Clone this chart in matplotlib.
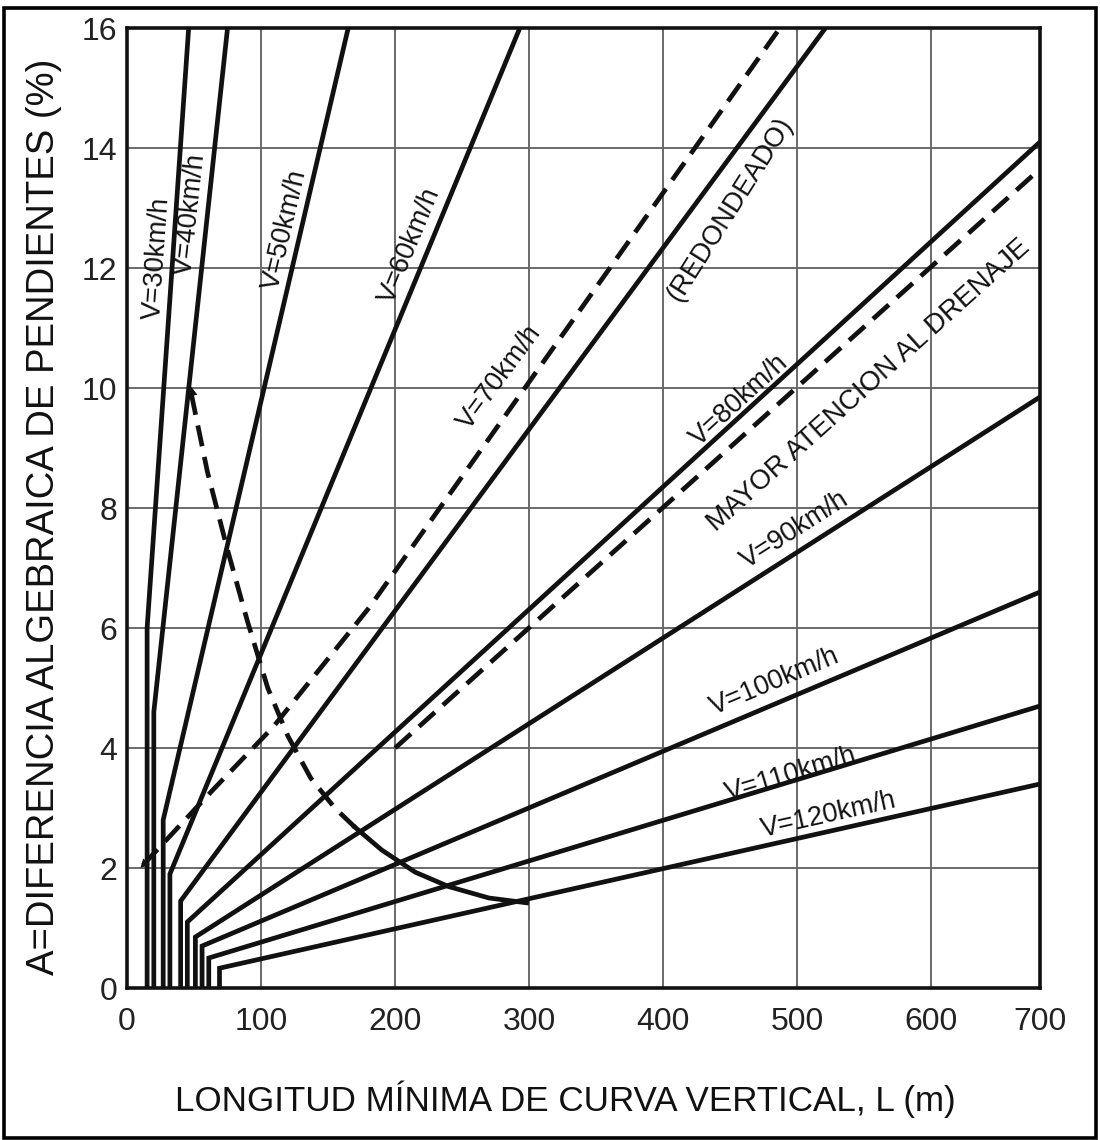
import matplotlib
matplotlib.use('Agg')
import matplotlib.pyplot as plt
import numpy as np
from matplotlib.patches import Rectangle

# ---------------- data ----------------
speeds = [30, 40, 50, 60, 70, 80, 90, 100, 110, 120]
L_min = [15, 20, 27, 32, 40, 45, 51, 56, 61, 69]
A_break = [6.0, 4.6, 2.8, 1.9, 1.45, 1.1, 0.85, 0.7, 0.5, 0.33]
L_end = [46, 75, 165, 293, 521, 681, 681, 681, 681, 681]
A_end = [16, 16, 16, 16, 16, 14.1, 9.85, 6.6, 4.7, 3.4]

L_redondeado = [12, 64, 109, 181, 487]
A_redondeado = [2.05, 3.3, 4.35, 6.35, 16]

L_drenaje = [200, 681]
A_drenaje = [4.0, 13.65]

L_limite_dash = [48, 60, 75, 90, 105, 120, 137, 155, 170]
A_limite_dash = [9.9, 8.6, 7.3, 6.1, 5.0, 4.2, 3.5, 3.0, 2.68]
L_limite_solid = [170, 190, 215, 240, 270, 298]
A_limite_solid = [2.68, 2.3, 1.93, 1.69, 1.5, 1.42]

x_ticks = [0, 100, 200, 300, 400, 500, 600, 681]
x_tick_labels = ['0', '100', '200', '300', '400', '500', '600', '700']
y_ticks = [0, 2, 4, 6, 8, 10, 12, 14, 16]
y_tick_labels = ['0', '2', '4', '6', '8', '10', '12', '14', '16']

speed_labels = ['V=%dkm/h' % v for v in speeds]
speed_label_L = [22.4, 47, 118, 211, 278, 457, 498, 483, 495, 523]
speed_label_A = [12.17, 12.9, 12.63, 12.38, 10.17, 9.8, 7.63, 5.1, 3.55, 2.88]

x_label = 'LONGITUD MÍNIMA DE CURVA VERTICAL, L (m)'
y_label = 'A=DIFERENCIA ALGEBRAICA DE PENDIENTES (%)'

# ---------------- figure ----------------
FONT = ['Liberation Sans', 'DejaVu Sans']
plt.rcParams['font.family'] = FONT

fig = plt.figure(figsize=(11, 11.4), dpi=100)
ax = fig.add_axes([127 / 1100, 1 - 988 / 1140, 913 / 1100, 960 / 1140])
ax.set_xlim(0, 681)
ax.set_ylim(0, 16)

ax.set_xticks(x_ticks)
ax.set_xticklabels(x_tick_labels)
ax.set_yticks(y_ticks)
ax.set_yticklabels(y_tick_labels)
ax.tick_params(axis='both', length=0, labelsize=23, colors='#222222')
ax.tick_params(axis='x', pad=14)
ax.tick_params(axis='y', pad=7)
ax.grid(True, color='#6a6a6a', lw=1.4)
ax.set_axisbelow(True)
for s in ax.spines.values():
    s.set_linewidth(2.6)
    s.set_color('#111111')

LW = 3.4
for i in range(len(speeds)):
    ax.plot([L_min[i], L_min[i], L_end[i]], [0, A_break[i], A_end[i]],
            color='#111111', lw=LW, solid_joinstyle='miter', zorder=3)

dash = (0, (4.5, 2.3))
ax.plot(L_redondeado, A_redondeado, color='#111111', lw=LW, ls=dash, zorder=3)
ax.plot(L_drenaje, A_drenaje, color='#111111', lw=LW, ls=dash, zorder=3)
ax.plot(L_limite_dash, A_limite_dash, color='#111111', lw=LW, ls=dash, zorder=3)
ax.plot(L_limite_solid, A_limite_solid, color='#111111', lw=LW, zorder=3,
        solid_joinstyle='round')

# small arrow heads at the start of the dashed curves
ax.annotate('', xy=(L_limite_dash[0], A_limite_dash[0] + 0.12),
            xytext=(L_limite_dash[1], A_limite_dash[1]),
            arrowprops=dict(arrowstyle='-|>', color='#111111', lw=0,
                            mutation_scale=16, shrinkA=0, shrinkB=0), zorder=4)
ax.annotate('', xy=(L_redondeado[0] - 2, A_redondeado[0] - 0.05),
            xytext=(L_redondeado[1], A_redondeado[1]),
            arrowprops=dict(arrowstyle='-|>', color='#111111', lw=0,
                            mutation_scale=16, shrinkA=0, shrinkB=0), zorder=4)


def angle_of(p, q):
    a = ax.transData.transform(p)
    b = ax.transData.transform(q)
    return np.degrees(np.arctan2(b[1] - a[1], b[0] - a[0]))


for i in range(len(speeds)):
    ang = angle_of((L_min[i], A_break[i]), (L_end[i], A_end[i]))
    ax.text(speed_label_L[i], speed_label_A[i], speed_labels[i], fontsize=19.5,
            rotation=ang, rotation_mode='anchor', ha='center', va='center',
            color='#111111', zorder=5)

ang = angle_of((L_redondeado[3], A_redondeado[3]), (L_redondeado[4], A_redondeado[4]))
ax.text(450, 12.97, '(REDONDEADO)', fontsize=19.5, rotation=ang + 3,
        rotation_mode='anchor', ha='center', va='center', color='#111111', zorder=5)
ang = angle_of((L_drenaje[0], A_drenaje[0]), (L_drenaje[1], A_drenaje[1]))
ax.text(553, 10.05, 'MAYOR ATENCION AL DRENAJE', fontsize=20, rotation=ang,
        rotation_mode='anchor', ha='center', va='center', color='#111111', zorder=5)

ax.set_xlabel(x_label, fontsize=25.2, color='#111111')
ax.set_ylabel(y_label, fontsize=27.5, color='#111111')
ax.xaxis.set_label_coords((565 - 127) / 913, (988 - 1080) / 960)
ax.yaxis.set_label_coords((62 - 127) / 913, (988 - 517) / 960)

# outer frame of the figure
fig.patches.append(Rectangle((4 / 1100, 2 / 1140), 1092 / 1100, 1 - 8 / 1140 - 2 / 1140,
                             transform=fig.transFigure, fill=False, lw=2.6,
                             ec='#000000'))

fig.savefig('out.png', dpi=100)
